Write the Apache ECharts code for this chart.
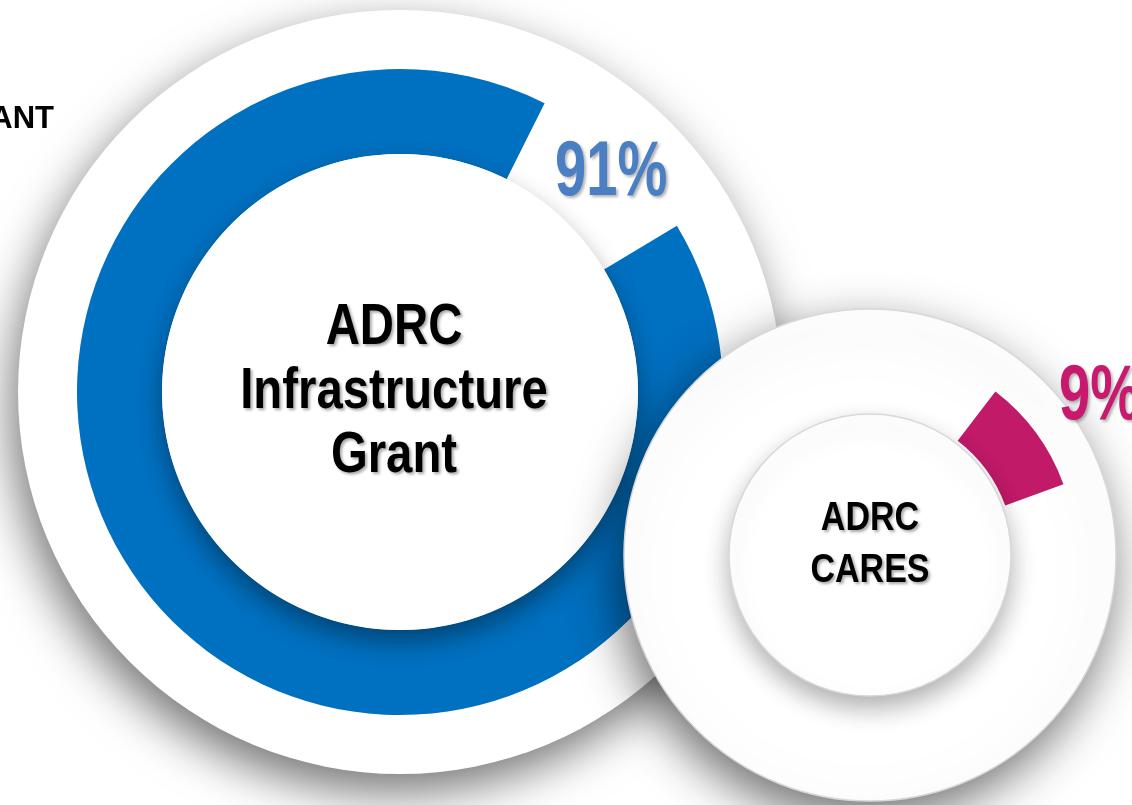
<!DOCTYPE html>
<html>
<head>
    <meta charset="utf-8">
    <title>ADRC funding share</title>
    <script src="https://cdn.jsdelivr.net/npm/echarts@6/dist/echarts.min.js"></script>
    <style>
        body, html { margin: 0; padding: 0; width: 100%; height: 100%; overflow: hidden; background: #fff; }
        #main { width: 1132px; height: 805px; }
    </style>
</head>
<body>
    <div id="main"></div>
    <script>
        // data
        const programs = ['ADRC Infrastructure Grant', 'ADRC CARES'];
        const shares = [91, 9];
        const shareColors = ['#0070c0', '#c01a68'];
        const labelColors = ['#4a7fc4', '#c8196e'];
        const cutTitle = 'ANT';

        // no narrow fonts installed, so squeeze Liberation Sans horizontally
        const sans = "'Liberation Sans', Arial, sans-serif";

        // layout of the two rings
        const rings = [
            { center: [400, 392], disc: 382, outer: 323, inner: 238, hole: 238, start: 31, font: 57, lh: 64, textY: 392,
              pct: { x: 555, y: 173 }, innerShadow: 0.38 },
            { center: [870, 555], disc: 246, outer: 206, inner: 144, hole: 141, start: 52.5, font: 41, lh: 52, textY: 545,
              pct: { x: 1059, y: 397 }, innerShadow: 0.3 }
        ];

        const chart = echarts.init(document.getElementById('main'));

        function plainDisc(ring, r, z, style) {
            return {
                type: 'pie', silent: true, animation: false, z: z,
                center: ring.center, radius: [0, r],
                label: { show: false }, labelLine: { show: false },
                emphasis: { disabled: true },
                itemStyle: Object.assign({ color: '#fff' }, style),
                data: [{ value: 1 }]
            };
        }

        const series = [];
        const texts = [];
        rings.forEach((ring, i) => {
            const zb = i * 10;
            series.push(plainDisc(ring, ring.disc, zb + 1, {
                borderColor: i ? '#d8d8d8' : '#fff', borderWidth: i ? 1.5 : 0,
                shadowBlur: 48, shadowColor: 'rgba(0,0,0,0.55)', shadowOffsetY: 18, shadowOffsetX: -6
            }));
            series.push({
                type: 'pie', silent: true, animation: false, z: zb + 2,
                center: ring.center, radius: [ring.inner, ring.outer],
                startAngle: ring.start, clockwise: true,
                label: { show: false }, labelLine: { show: false },
                emphasis: { disabled: true },
                data: [
                    { value: shares[i], itemStyle: { color: shareColors[i] } },
                    { value: 100 - shares[i], itemStyle: { color: 'rgba(0,0,0,0)' } }
                ]
            });
            series.push(plainDisc(ring, ring.hole, zb + 3, {
                borderColor: i ? '#d8d8d8' : '#fff', borderWidth: i ? 1.5 : 0,
                shadowBlur: 24, shadowColor: 'rgba(0,0,0,' + ring.innerShadow + ')', shadowOffsetY: 12
            }));

            texts.push({
                type: 'text', z: 100,
                x: ring.center[0] - 6 * (1 - i), y: ring.textY, scaleX: 0.83,
                style: {
                    text: programs[i].split(' ').join('\n'),
                    font: 'bold ' + ring.font + 'px ' + sans,
                    lineHeight: ring.lh,
                    fill: '#000', align: 'center', verticalAlign: 'middle',
                    textShadowColor: 'rgba(0,0,0,0.35)', textShadowBlur: 3,
                    textShadowOffsetX: 2, textShadowOffsetY: 2
                }
            });
            texts.push({
                type: 'text', z: 100,
                x: ring.pct.x, y: ring.pct.y, scaleX: 0.72,
                style: {
                    text: shares[i] + '%',
                    font: 'bold 78px ' + sans,
                    fill: labelColors[i], align: 'left', verticalAlign: 'middle',
                    textShadowColor: 'rgba(0,0,0,0.3)', textShadowBlur: 3,
                    textShadowOffsetX: 2, textShadowOffsetY: 2
                }
            });
        });

        texts.push({
            type: 'text', z: 100, x: 54, y: 119,
            style: {
                text: cutTitle, font: 'bold 31px ' + sans,
                fill: '#000', align: 'right', verticalAlign: 'middle'
            }
        });

        chart.setOption({
            backgroundColor: '#fff',
            animation: false,
            series: series,
            graphic: { elements: texts }
        });
    </script>
</body>
</html>
